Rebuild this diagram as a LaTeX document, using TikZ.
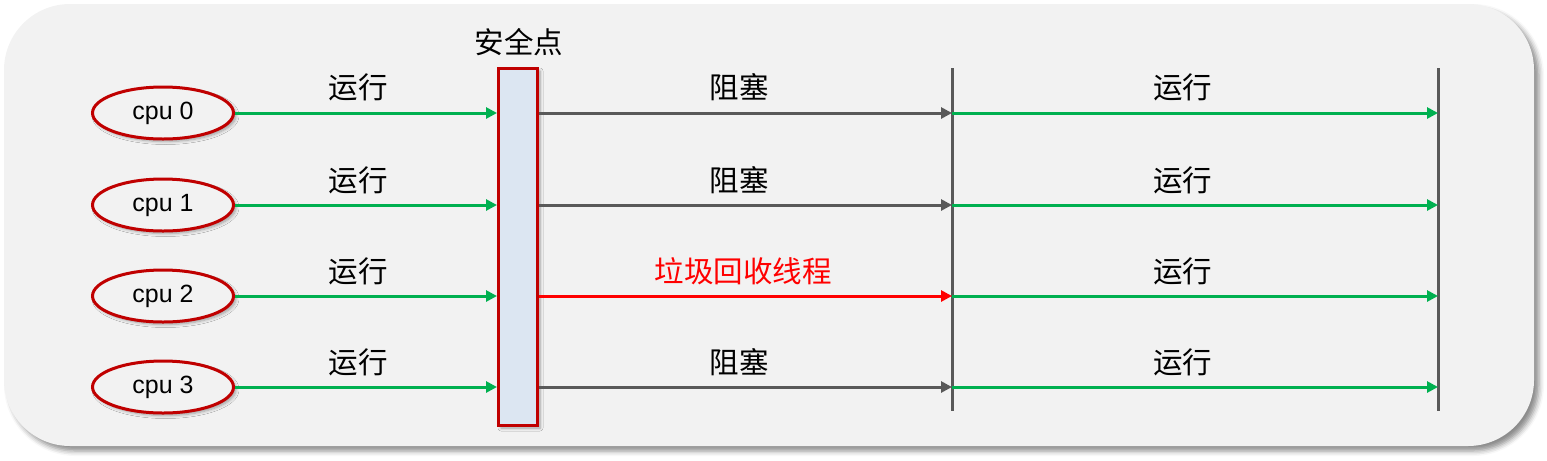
\documentclass[tikz,border=0pt]{standalone}
\usepackage{fontspec}
\setmainfont{Liberation Sans}
\newfontfamily\cjk{Noto Sans CJK SC}
\usepackage{xcolor}
\usetikzlibrary{arrows.meta,shapes.geometric,shadows.blur}
\definecolor{runGreen}{HTML}{00B050}
\definecolor{waitGray}{HTML}{595959}
\definecolor{cpuRed}{HTML}{C00000}
\definecolor{gcRed}{HTML}{FF0000}
\definecolor{safeBlue}{HTML}{DCE6F2}
\definecolor{panelGray}{HTML}{F2F2F2}
\tikzset{
	softshadow/.style={
			blur shadow={shadow xshift=0.05cm, shadow yshift=-0.05cm,
					shadow blur radius=0.06cm, shadow blur steps=6, shadow opacity=35}
		},
	cpu/.style={ellipse, draw=cpuRed, line width=0.06cm, fill=panelGray,
			minimum width=2.82cm, minimum height=1.04cm, inner sep=0pt,
			font=\fontsize{14.2pt}{17pt}\selectfont, softshadow},
	lbl/.style={font=\cjk\fontsize{16.8pt}{20pt}\selectfont, inner sep=0pt},
	tip/.style={-{Triangle[length=2.2mm,width=2.2mm]}},
	run/.style={tip, line width=0.06cm, draw=runGreen},
	blocked/.style={tip, line width=0.06cm, draw=waitGray},
	gc/.style={tip, line width=0.06cm, draw=gcRed},
	bar/.style={line width=0.06cm, draw=waitGray}
}

\begin{document}
\begin{tikzpicture}
    \useasboundingbox (0,0) rectangle (30.94,-9.2);
    % panel
    \fill[panelGray, rounded corners=1.32cm,
        blur shadow={shadow xshift=0.1cm, shadow yshift=-0.1cm,
            shadow blur radius=0.1cm, shadow opacity=45}]
        (0.08,-0.08) rectangle (30.68,-8.92);

    % safe point
    \node[draw=cpuRed, line width=0.06cm, fill=safeBlue, minimum width=0.78cm,
        minimum height=7.14cm, inner sep=0pt, softshadow] (sp) at (10.36,-4.94) {};
    \node[lbl] (sptext) at (10.38,-0.84) {安全点};

    % cpus
    \node[cpu] (cpu0) at (3.26,-2.26) {cpu 0};
    \node[cpu] (cpu1) at (3.26,-4.10) {cpu 1};
    \node[cpu] (cpu2) at (3.26,-5.92) {cpu 2};
    \node[cpu] (cpu3) at (3.26,-7.74) {cpu 3};

    % bars
    \coordinate (bar1top) at (19.04,-1.36);
    \coordinate (bar1bot) at (19.04,-8.22);
    \coordinate (bar2top) at (28.76,-1.36);
    \coordinate (bar2bot) at (28.76,-8.22);
    \draw[bar] (bar1top) -- (bar1bot);
    \draw[bar] (bar2top) -- (bar2bot);

    % before the safe point
    \draw[run] (cpu0.east) -- node[lbl, pos=0.47, yshift=0.52cm] (run0) {运行} (cpu0 -| sp.west);
    \draw[run] (cpu1.east) -- node[lbl, pos=0.47, yshift=0.5cm] (run1) {运行} (cpu1 -| sp.west);
    \draw[run] (cpu2.east) -- node[lbl, pos=0.47, yshift=0.5cm] (run2) {运行} (cpu2 -| sp.west);
    \draw[run] (cpu3.east) -- node[lbl, pos=0.47, yshift=0.5cm] (run3) {运行} (cpu3 -| sp.west);

    % at the safe point
    \draw[blocked] (cpu0 -| sp.east) -- node[lbl, pos=0.485, yshift=0.52cm] (blk0) {阻塞} (cpu0 -| bar1top);
    \draw[blocked] (cpu1 -| sp.east) -- node[lbl, pos=0.485, yshift=0.5cm] (blk1) {阻塞} (cpu1 -| bar1top);
    \draw[gc] (cpu2 -| sp.east) -- node[lbl, text=gcRed, pos=0.495, yshift=0.5cm] (gc2) {垃圾回收线程} (cpu2 -| bar1top);
    \draw[blocked] (cpu3 -| sp.east) -- node[lbl, pos=0.485, yshift=0.5cm] (blk3) {阻塞} (cpu3 -| bar1top);

    % after
    \draw[run] (cpu0 -| bar1top) -- node[lbl, pos=0.475, yshift=0.52cm] (go0) {运行} (cpu0 -| bar2top);
    \draw[run] (cpu1 -| bar1top) -- node[lbl, pos=0.475, yshift=0.5cm] (go1) {运行} (cpu1 -| bar2top);
    \draw[run] (cpu2 -| bar1top) -- node[lbl, pos=0.475, yshift=0.5cm] (go2) {运行} (cpu2 -| bar2top);
    \draw[run] (cpu3 -| bar1top) -- node[lbl, pos=0.475, yshift=0.5cm] (go3) {运行} (cpu3 -| bar2top);
\end{tikzpicture}
\end{document}
